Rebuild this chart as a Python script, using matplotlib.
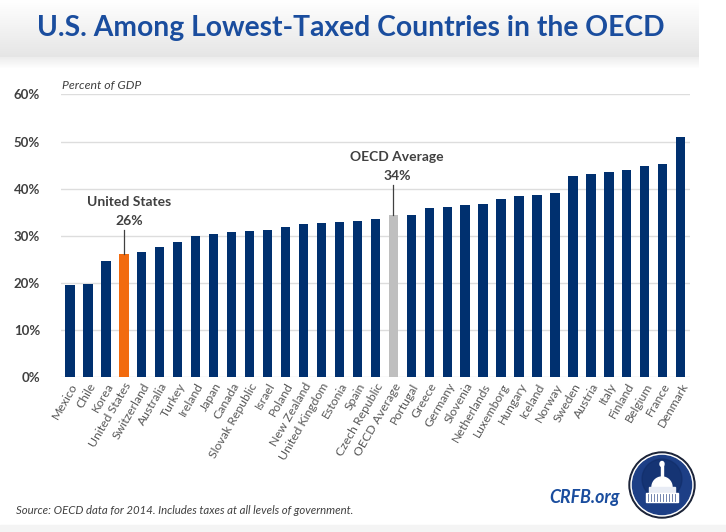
import numpy as np
import matplotlib
matplotlib.use("Agg")
import matplotlib.pyplot as plt
from matplotlib.patches import Circle, Rectangle, Ellipse, Wedge

# data (percent of GDP, 2014)
countries = ["Mexico", "Chile", "Korea", "United States", "Switzerland", "Australia",
             "Turkey", "Ireland", "Japan", "Canada", "Slovak Republic", "Israel",
             "Poland", "New Zealand", "United Kingdom", "Estonia", "Spain",
             "Czech Republic", "OECD Average", "Portugal", "Greece", "Germany",
             "Slovenia", "Netherlands", "Luxemborg", "Hungary", "Iceland", "Norway",
             "Sweden", "Austria", "Italy", "Finland", "Belgium", "France", "Denmark"]
tax_share = [19.5, 19.8, 24.6, 26.0, 26.6, 27.5, 28.7, 29.9, 30.3, 30.8, 31.0, 31.1,
             31.9, 32.4, 32.6, 32.9, 33.2, 33.5, 34.3, 34.4, 35.9, 36.1, 36.6, 36.7,
             37.8, 38.5, 38.7, 39.1, 42.7, 43.0, 43.6, 43.9, 44.7, 45.2, 50.9]
y_ticks = [0, 10, 20, 30, 40, 50, 60]
y_labels = ["0%", "10%", "20%", "30%", "40%", "50%", "60%"]

NAVY = "#00306F"
ORANGE = "#F26B0F"
GREY = "#BFBFBF"
BLUE_TXT = "#1A4D9E"

plt.rcParams['font.family'] = ['Lato', 'DejaVu Sans']

fig = plt.figure(figsize=(7.26, 5.32), dpi=100)

# background / decoration layer in pixel coordinates
bg = fig.add_axes([0, 0, 1, 1], zorder=0)
bg.set_xlim(0, 726)
bg.set_ylim(532, 0)
bg.axis("off")
grad = np.linspace(1.0, 0.9, 60).reshape(-1, 1)
bg.imshow(np.dstack([grad, grad, grad]), extent=(0, 699, 57, 0), aspect="auto", zorder=1)
shadow = np.linspace(0.93, 1.0, 12).reshape(-1, 1)
bg.imshow(np.dstack([shadow, shadow, shadow]), extent=(0, 699, 69, 57), aspect="auto", zorder=1)
bg.add_patch(Rectangle((0, 525), 726, 7, color="#F4F4F4", zorder=1))
bg.text(37, 28, "U.S. Among Lowest-Taxed Countries in the OECD", color=BLUE_TXT,
        fontsize=20.3, fontweight="bold", va="center", ha="left", zorder=3)
bg.text(16, 511, "Source: OECD data for 2014. Includes taxes at all levels of government.",
        color="#404040", fontsize=8.2, style="italic", va="center", ha="left")
bg.text(620, 497, "CRFB.org", color=BLUE_TXT, fontsize=12.8, fontweight="bold",
        style="italic", va="center", ha="right")

# logo
cx, cy = 662, 485
bg.add_patch(Circle((cx, cy), 33, color="#1B2338", zorder=2))
bg.add_patch(Circle((cx, cy), 31, color="white", zorder=2))
bg.add_patch(Circle((cx, cy), 29.5, color="#1D3F86", zorder=2))
bg.add_patch(Circle((cx, cy - 6), 20, color="#0F2A63", alpha=0.5, zorder=2))
bg.add_patch(Wedge((cx, cy + 2), 10, 180, 360, color="white", zorder=3))
bg.add_patch(Rectangle((cx - 13, cy + 2), 26, 6, color="#E8ECF5", zorder=3))
bg.add_patch(Rectangle((cx - 16, cy + 8), 32, 9, color="white", zorder=3))
for k in range(-14, 15, 3):
    bg.plot([cx + k, cx + k], [cy + 9, cy + 16], color="#5A6FA0", lw=0.6, zorder=4)
bg.add_patch(Rectangle((cx - 1.2, cy - 20), 2.4, 12, color="white", zorder=3))
bg.add_patch(Ellipse((cx, cy - 21), 4, 5, color="white", zorder=3))

# chart
ax = fig.add_axes([0.084, 0.2919, 0.866, 0.5305], zorder=2)
ax.patch.set_alpha(0)
x = np.arange(len(countries))
colors = [NAVY] * len(countries)
us_i = countries.index("United States")
avg_i = countries.index("OECD Average")
colors[us_i] = ORANGE
colors[avg_i] = GREY
ax.bar(x, tax_share, width=0.52, color=colors, zorder=3)

ax.set_xlim(-0.5, len(countries) - 0.5)
ax.set_ylim(0, 60)
ax.set_yticks(y_ticks)
ax.set_yticklabels(y_labels, fontsize=9.5, fontweight="bold", color="#404040")
ax.yaxis.grid(True, color="#DDDDDD", lw=1, zorder=0)
ax.tick_params(axis="y", length=0, pad=15)
ax.set_xticks(x)
ax.set_xticklabels(countries, rotation=60, ha="right", rotation_mode="anchor",
                   fontsize=8.8, color="#595959")
ax.tick_params(axis="x", length=0, pad=3)
for s in ax.spines.values():
    s.set_visible(False)

ax.text(-0.45, 62, "Percent of GDP", fontsize=8.8, style="italic", color="#404040",
        ha="left", va="center")

# annotations
us_v = tax_share[us_i]
ax.plot([us_i, us_i], [us_v, us_v + 5.2], color="#404040", lw=0.9, zorder=4)
ax.text(us_i + 0.3, us_v + 7.2, f"{us_v:.0f}%", ha="center", va="center",
        fontsize=10, fontweight="bold", color="#404040")
ax.text(us_i + 0.3, us_v + 11.2, "United States", ha="center", va="center",
        fontsize=10, fontweight="bold", color="#404040")
avg_v = tax_share[avg_i]
ax.plot([avg_i, avg_i], [avg_v, avg_v + 6.5], color="#404040", lw=0.9, zorder=4)
ax.text(avg_i + 0.2, avg_v + 8.4, f"{avg_v:.0f}%", ha="center", va="center",
        fontsize=10, fontweight="bold", color="#404040")
ax.text(avg_i + 0.2, avg_v + 12.5, "OECD Average", ha="center", va="center",
        fontsize=10, fontweight="bold", color="#404040")

fig.savefig("out.png", dpi=100)
